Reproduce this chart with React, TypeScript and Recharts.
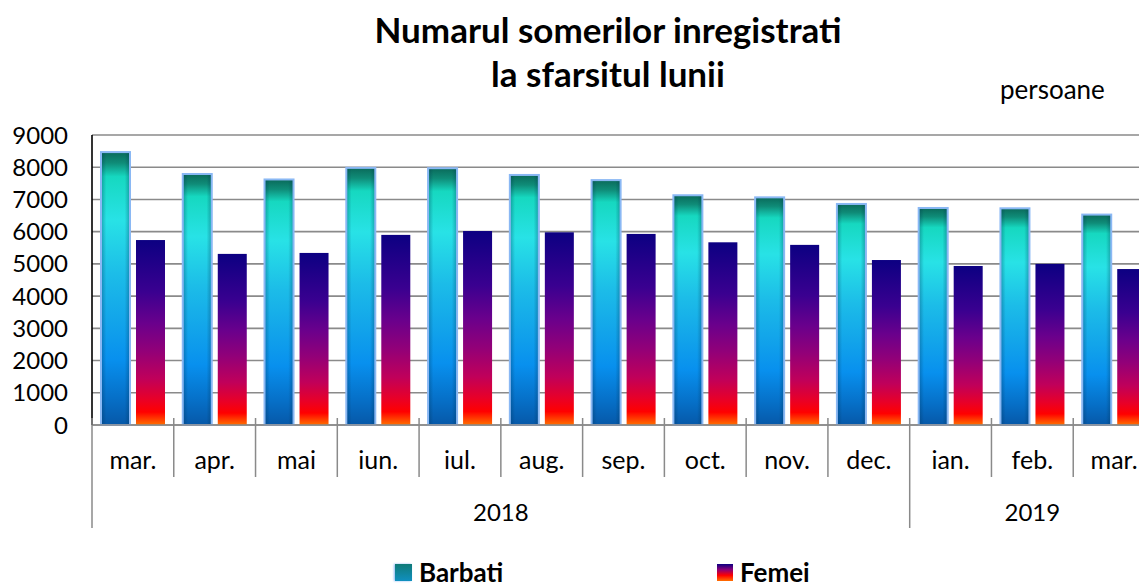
import React from 'react';
import { BarChart, Bar, XAxis, YAxis, CartesianGrid } from 'recharts';

// Data
const months = ['mar.', 'apr.', 'mai', 'iun.', 'iul.', 'aug.', 'sep.', 'oct.', 'nov.', 'dec.', 'ian.', 'feb.', 'mar.'];
const years = ['2018', '2018', '2018', '2018', '2018', '2018', '2018', '2018', '2018', '2018', '2019', '2019', '2019'];
const barbati = [8470, 7790, 7620, 7980, 7970, 7760, 7600, 7130, 7065, 6860, 6735, 6725, 6530];
const femei = [5740, 5310, 5340, 5900, 6020, 5980, 5930, 5670, 5590, 5120, 4935, 5000, 4840];
const yTicks = [0, 1000, 2000, 3000, 4000, 5000, 6000, 7000, 8000, 9000];

const data = months.map((m, i) => ({
    key: `${years[i]}-${m}-${i}`,
    month: m,
    year: years[i],
    barbati: barbati[i],
    femei: femei[i],
}));

const FONT = 'Lato, "Open Sans", sans-serif';
const CHART_W = 1170;
const CHART_H = 588;
const MARGIN = { top: 135, right: 15, left: 0, bottom: 60 };
const Y_AXIS_W = 92;
const BAND = (CHART_W - MARGIN.right - MARGIN.left - Y_AXIS_W) / months.length;
const GRID = '#8a8a8a';

const isGroupStart = (i: number) => i === 0 || years[i] !== years[i - 1];

const MonthTick = ({ x, y, index }: any) => {
    const left = x - BAND / 2;
    return (
        <g>
            <line x1={left} x2={left} y1={y - 7} y2={isGroupStart(index) ? y + 103 : y + 52} stroke={GRID} strokeWidth={1.5} />
            <text x={x} y={y + 44} textAnchor="middle" fontSize={25} fontFamily={FONT} fill="#000">
                {months[index]}
            </text>
        </g>
    );
};

const YearTick = ({ x, y, index }: any) => {
    if (!isGroupStart(index)) return <g />;
    let n = 0;
    while (index + n < years.length && years[index + n] === years[index]) n++;
    const cx = x - BAND / 2 + (n * BAND) / 2;
    return (
        <text x={cx} y={y + 44} textAnchor="middle" fontSize={24} fontFamily={FONT} fill="#000">
            {years[index]}
        </text>
    );
};

const BarbatiShape = ({ x, y, width, height }: any) => {
    if (!height || height <= 0) return null;
    return (
        <g>
            <rect x={x} y={y} width={width} height={height} fill="url(#gradBarbati)" />
            <rect x={x} y={y} width={width} height={height} fill="url(#edgeBarbati)" />
            <rect x={x} y={y} width={width} height={height} fill="none" stroke="#8ab8f4" strokeWidth={2} />
        </g>
    );
};

const FemeiShape = ({ x, y, width, height }: any) => {
    if (!height || height <= 0) return null;
    return <rect x={x} y={y} width={width} height={height} fill="url(#gradFemei)" />;
};

const legendItem: React.CSSProperties = {
    position: 'absolute',
    top: 557,
    display: 'flex',
    alignItems: 'center',
    fontWeight: 700,
    fontSize: 26,
    lineHeight: '30px',
    color: '#000',
};

const App = () => {
    return (
        <div style={{ position: 'absolute', left: 0, top: 0, width: 1139, height: 588, overflow: 'hidden', background: '#fff', fontFamily: FONT }}>
            <div style={{ position: 'absolute', left: 258, top: 7, width: 700, textAlign: 'center', fontWeight: 700, fontSize: 35, lineHeight: '44px', color: '#000' }}>
                Numarul somerilor inregistrati
                <br />
                la sfarsitul lunii
            </div>
            <div style={{ position: 'absolute', left: 1000, top: 74, fontSize: 26, lineHeight: '30px', color: '#000' }}>persoane</div>

            <BarChart
                width={CHART_W}
                height={CHART_H}
                data={data}
                margin={MARGIN}
                barCategoryGap="11%"
                barGap={6}
            >
                <defs>
                    <linearGradient id="gradBarbati" x1="0" y1="0" x2="0" y2="1">
                        <stop offset="0%" stopColor="#0a6a5a" />
                        <stop offset="4%" stopColor="#0f8c78" />
                        <stop offset="9%" stopColor="#16d8c0" />
                        <stop offset="25%" stopColor="#28e2e6" />
                        <stop offset="45%" stopColor="#1cbce8" />
                        <stop offset="62%" stopColor="#12a4ea" />
                        <stop offset="76%" stopColor="#0890ee" />
                        <stop offset="90%" stopColor="#0670c8" />
                        <stop offset="100%" stopColor="#0658a8" />
                    </linearGradient>
                    <linearGradient id="edgeBarbati" x1="0" y1="0" x2="1" y2="0">
                        <stop offset="0%" stopColor="#003050" stopOpacity={0.35} />
                        <stop offset="18%" stopColor="#003050" stopOpacity={0} />
                        <stop offset="82%" stopColor="#003050" stopOpacity={0} />
                        <stop offset="100%" stopColor="#003050" stopOpacity={0.35} />
                    </linearGradient>
                    <linearGradient id="gradFemei" x1="0" y1="0" x2="0" y2="1">
                        <stop offset="0%" stopColor="#0c0082" />
                        <stop offset="28%" stopColor="#3a0090" />
                        <stop offset="45%" stopColor="#6a008c" />
                        <stop offset="60%" stopColor="#920078" />
                        <stop offset="75%" stopColor="#c0005a" />
                        <stop offset="86%" stopColor="#e80028" />
                        <stop offset="93%" stopColor="#ff0000" />
                        <stop offset="100%" stopColor="#ff7000" />
                    </linearGradient>
                </defs>
                <CartesianGrid vertical={false} stroke={GRID} strokeWidth={1.6} />
                <XAxis
                    xAxisId="month"
                    dataKey="key"
                    interval={0}
                    height={52}
                    tickSize={0}
                    tickMargin={0}
                    tickLine={false}
                    axisLine={{ stroke: GRID, strokeWidth: 1.6 }}
                    tick={<MonthTick />}
                />
                <XAxis
                    xAxisId="year"
                    dataKey="key"
                    interval={0}
                    height={51}
                    tickSize={0}
                    tickMargin={0}
                    tickLine={false}
                    axisLine={false}
                    tick={<YearTick />}
                />
                <YAxis
                    width={Y_AXIS_W}
                    domain={[0, 9000]}
                    ticks={yTicks}
                    interval={0}
                    tickLine={false}
                    tickSize={0}
                    tickMargin={24}
                    axisLine={{ stroke: '#000', strokeWidth: 1.6 }}
                    tick={{ fill: '#000', fontSize: 24, fontFamily: FONT }}
                />
                <Bar xAxisId="month" dataKey="barbati" name="Barbati" shape={<BarbatiShape />} isAnimationActive={false} />
                <Bar xAxisId="month" dataKey="femei" name="Femei" shape={<FemeiShape />} isAnimationActive={false} />
            </BarChart>

            {/* legend */}
            <div style={{ ...legendItem, left: 395 }}>
                <span style={{ width: 17, height: 17, background: 'linear-gradient(#0f7a78, #1090c0)', marginRight: 7, boxShadow: '-1px 0 2px #8ab8f4' }} />
                Barbati
            </div>
            <div style={{ ...legendItem, left: 717 }}>
                <span style={{ width: 16, height: 17, background: 'linear-gradient(#0c0082, #8a0078, #ff0000, #ff7000)', marginRight: 7 }} />
                Femei
            </div>
        </div>
    );
};

export default App;
